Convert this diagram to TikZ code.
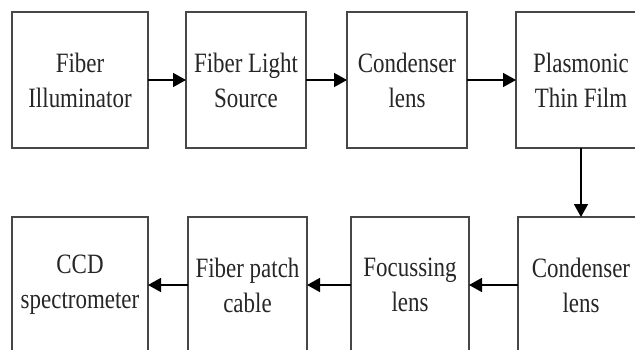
\documentclass[tikz,border=0pt]{standalone}
\usepackage{fontspec}
\setmainfont{Liberation Serif}[FakeStretch=0.82]
\usetikzlibrary{arrows.meta}
\begin{document}
\begin{tikzpicture}[x=1pt,y=-1pt,
  blk/.style={draw=black!72, line width=1.8pt, fill=white, inner sep=0pt, outer sep=0pt,
    align=center, font=\fontsize{28}{35}\selectfont, text=black!85},
  conn/.style={line width=1.6pt, -{Triangle[length=13pt,width=14pt]}}]
\useasboundingbox (0,0) rectangle (635,349);
\clip (0,0) rectangle (635,349);
\fill[white] (0,0) rectangle (635,349);
\node[blk, minimum width=136pt, minimum height=136pt] (b1) at (80,80) {Fiber\\Illuminator};
\node[blk, minimum width=120pt, minimum height=136pt] (b2) at (246,80) {Fiber Light\\Source};
\node[blk, minimum width=120pt, minimum height=136pt] (b3) at (407,80) {Condenser\\lens};
\node[blk, minimum width=130pt, minimum height=136pt] (b4) at (581,80) {Plasmonic\\Thin Film};
\node[blk, minimum width=136pt, minimum height=136pt] (b5) at (80,285) {CCD\\spectrometer};
\node[blk, minimum width=119pt, minimum height=136pt] (b6) at (247.5,285) {Fiber patch\\cable};
\node[blk, minimum width=118pt, minimum height=136pt] (b7) at (410,285) {Focussing\\lens};
\node[blk, minimum width=126pt, minimum height=136pt] (b8) at (581,285) {Condenser\\lens};
\draw[conn] (b1) -- (b2);
\draw[conn] (b2) -- (b3);
\draw[conn] (b3) -- (b4);
\draw[conn] (b4) -- (b8);
\draw[conn] (b8) -- (b7);
\draw[conn] (b7) -- (b6);
\draw[conn] (b6) -- (b5);
\end{tikzpicture}
\end{document}
